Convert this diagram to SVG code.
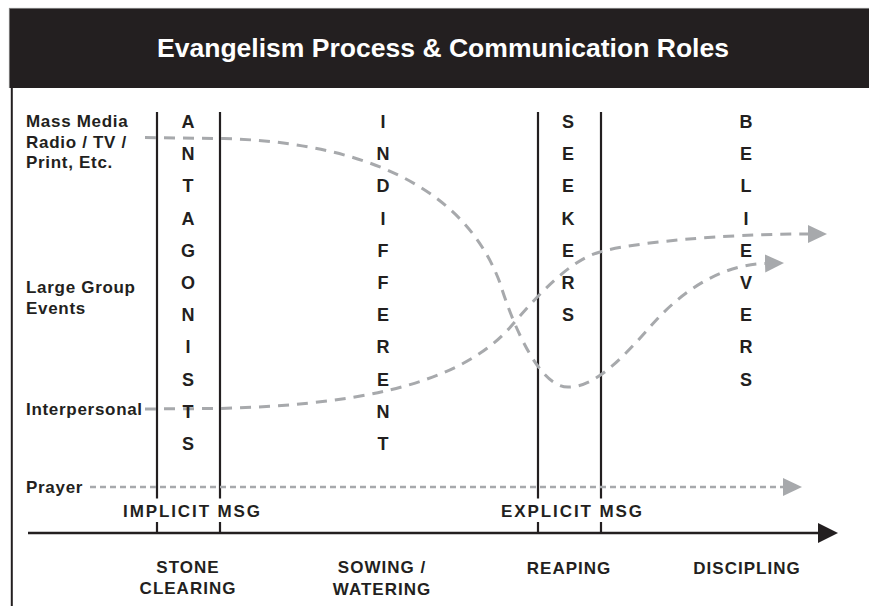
<svg xmlns="http://www.w3.org/2000/svg" width="869" height="606" viewBox="0 0 869 606">
<defs>
<style>
.t{font-family:"Liberation Sans",Arial,sans-serif;font-weight:bold;fill:#231f20}
.lbl{font-size:17px;letter-spacing:0.7px}
.col{font-size:18px;text-anchor:middle}
.msg{font-size:17px;letter-spacing:1.9px;text-anchor:middle}
.stage{font-size:17px;letter-spacing:1px;text-anchor:middle}
.vline{stroke:#231f20;stroke-width:2.2;fill:none}
.curve{stroke:#a7a9ac;stroke-width:3;fill:none;stroke-dasharray:11 8}
.dot{stroke:#a7a9ac;stroke-width:2.5;fill:none;stroke-dasharray:6 4}
</style>
<marker id="garrow" markerUnits="userSpaceOnUse" markerWidth="20" markerHeight="20" refX="0" refY="9" orient="auto" viewBox="0 0 20 20">
<path d="M0,0 L19,9 L0,18 Z" fill="#a7a9ac"/>
</marker>
<marker id="karrow" markerUnits="userSpaceOnUse" markerWidth="22" markerHeight="22" refX="0" refY="10" orient="auto" viewBox="0 0 22 22">
<path d="M0,0 L20,10 L0,20 Z" fill="#231f20"/>
</marker>
</defs>
<rect width="869" height="606" fill="#ffffff"/>
<g id="header">
<rect x="9" y="8" width="860" height="80" fill="#231f20"/>
<line x1="9" y1="8.4" x2="869" y2="8.4" stroke="#8a8a8a" stroke-width="0.9"/>
<line x1="9.4" y1="8" x2="9.4" y2="88" stroke="#8a8a8a" stroke-width="0.9"/>
<text x="157" y="57" font-family="Liberation Sans, Arial, sans-serif" font-weight="bold" font-size="25" fill="#ffffff" textLength="572" lengthAdjust="spacingAndGlyphs">Evangelism Process &amp; Communication Roles</text>
</g>
<g id="frame">
<line x1="11.8" y1="88" x2="11.8" y2="606" stroke="#231f20" stroke-width="2"/>
</g>
<g id="dividers">
<line class="vline" x1="157" y1="112" x2="157" y2="533"/>
<line class="vline" x1="220" y1="112" x2="220" y2="533"/>
<line class="vline" x1="538" y1="112" x2="538" y2="533"/>
<line class="vline" x1="601" y1="112" x2="601" y2="533"/>
</g>
<g id="channel-labels">
<text class="t lbl" x="26" y="127">Mass Media</text>
<text class="t lbl" x="26" y="147.5">Radio / TV /</text>
<text class="t lbl" x="26" y="168">Print, Etc.</text>
<text class="t lbl" x="26" y="293">Large Group</text>
<text class="t lbl" x="26" y="314">Events</text>
<text class="t lbl" x="26" y="415">Interpersonal</text>
<text class="t lbl" x="26" y="492.5">Prayer</text>
</g>
<g id="connectors">
<path id="mass-media" class="curve" marker-end="url(#garrow)" d="M145,137.5 L220,138.5 C340,141 460,175 500,283 C513,325 540,390 570,387 C597,386 625,355 650,327 C675,298 715,265 765,263.5"/>
<path id="interpersonal" class="curve" marker-end="url(#garrow)" d="M145,409 L220,408.5 C340,405 458,390 513,324 C538,295 570,260 600,252 C630,243 720,234 808,234"/>
<path id="prayer" class="dot" marker-end="url(#garrow)" d="M90,487 L783,487"/>
</g>
<g id="antagonists">
<text class="t col" x="188" y="128">A</text>
<text class="t col" x="188" y="160.2">N</text>
<text class="t col" x="188" y="192.4">T</text>
<text class="t col" x="188" y="224.6">A</text>
<text class="t col" x="188" y="256.8">G</text>
<text class="t col" x="188" y="289">O</text>
<text class="t col" x="188" y="321.2">N</text>
<text class="t col" x="188" y="353.4">I</text>
<text class="t col" x="188" y="385.6">S</text>
<text class="t col" x="188" y="417.8">T</text>
<text class="t col" x="188" y="450">S</text>
</g>
<g id="indifferent">
<text class="t col" x="383" y="128">I</text>
<text class="t col" x="383" y="160.2">N</text>
<text class="t col" x="383" y="192.4">D</text>
<text class="t col" x="383" y="224.6">I</text>
<text class="t col" x="383" y="256.8">F</text>
<text class="t col" x="383" y="289">F</text>
<text class="t col" x="383" y="321.2">E</text>
<text class="t col" x="383" y="353.4">R</text>
<text class="t col" x="383" y="385.6">E</text>
<text class="t col" x="383" y="417.8">N</text>
<text class="t col" x="383" y="450">T</text>
</g>
<g id="seekers">
<text class="t col" x="568" y="128">S</text>
<text class="t col" x="568" y="160.2">E</text>
<text class="t col" x="568" y="192.4">E</text>
<text class="t col" x="568" y="224.6">K</text>
<text class="t col" x="568" y="256.8">E</text>
<text class="t col" x="568" y="289">R</text>
<text class="t col" x="568" y="321.2">S</text>
</g>
<g id="believers">
<text class="t col" x="746" y="128">B</text>
<text class="t col" x="746" y="160.2">E</text>
<text class="t col" x="746" y="192.4">L</text>
<text class="t col" x="746" y="224.6">I</text>
<text class="t col" x="746" y="256.8">E</text>
<text class="t col" x="746" y="289">V</text>
<text class="t col" x="746" y="321.2">E</text>
<text class="t col" x="746" y="353.4">R</text>
<text class="t col" x="746" y="385.6">S</text>
</g>
<g id="implicit-msg">
<rect x="118" y="498.5" width="147" height="23.5" fill="#ffffff"/>
<text class="t msg" x="192.5" y="517">IMPLICIT MSG</text>
</g>
<g id="explicit-msg">
<rect x="496" y="498.5" width="151" height="23.5" fill="#ffffff"/>
<text class="t msg" x="572.5" y="517">EXPLICIT MSG</text>
</g>
<g id="axis">
<line x1="28" y1="533" x2="818" y2="533" stroke="#231f20" stroke-width="2.5" marker-end="url(#karrow)"/>
</g>
<g id="stages">
<text class="t stage" x="188" y="573">STONE</text>
<text class="t stage" x="188" y="594">CLEARING</text>
<text class="t stage" x="382" y="573">SOWING /</text>
<text class="t stage" x="382" y="595">WATERING</text>
<text class="t stage" x="569" y="574">REAPING</text>
<text class="t stage" x="747" y="574">DISCIPLING</text>
</g>
</svg>
